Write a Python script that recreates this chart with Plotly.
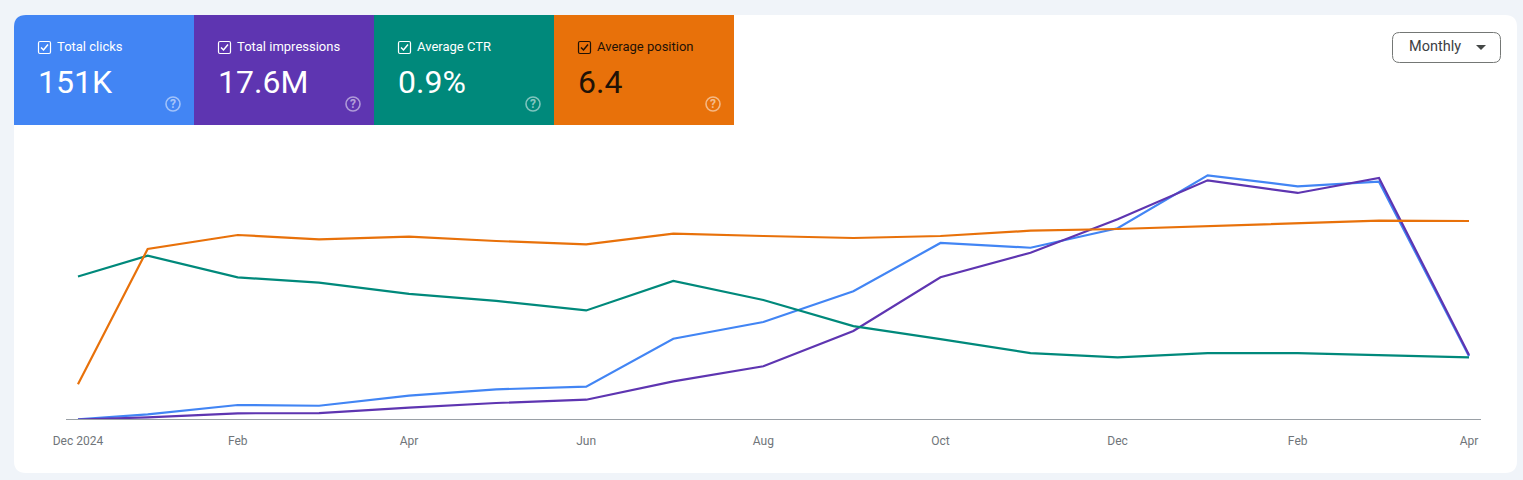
import plotly.graph_objects as go

W, H = 1523, 480

# data
dates = ['2024-12-08', '2025-01-01', '2025-02-01', '2025-03-01', '2025-04-01', '2025-05-01',
         '2025-06-01', '2025-07-01', '2025-08-01', '2025-09-01', '2025-10-01', '2025-11-01',
         '2025-12-01', '2026-01-01', '2026-02-01', '2026-03-01', '2026-04-01']
clicks = [60, 490, 1290, 1230, 2095, 2645, 2870, 7010, 8450, 11095, 15260, 14850,
          16525, 21095, 20145, 20540, 5490]
impressions = [5700, 31000, 77000, 80000, 141000, 195000, 233000, 444000, 617000, 1022000,
               1639000, 1921000, 2305000, 2752000, 2607000, 2779000, 746000]
ctr = [1.65, 1.89, 1.64, 1.58, 1.45, 1.37, 1.26, 1.60, 1.38, 1.08, 0.93, 0.77,
       0.72, 0.77, 0.77, 0.75, 0.72]
position = [10.93, 6.87, 6.45, 6.58, 6.50, 6.63, 6.73, 6.41, 6.48, 6.54, 6.48, 6.32,
            6.27, 6.18, 6.10, 6.02, 6.03]

tick_dates = ['2024-12-08', '2025-02-01', '2025-04-01', '2025-06-01', '2025-08-01',
              '2025-10-01', '2025-12-01', '2026-02-01', '2026-04-01']
tick_labels = ['Dec 2024', 'Feb', 'Apr', 'Jun', 'Aug', 'Oct', 'Dec', 'Feb', 'Apr']

card_labels = ['Total clicks', 'Total impressions', 'Average CTR', 'Average position']
card_values = ['151K', '17.6M', '0.9%', '6.4']
card_colors = ['#4285F4', '#5E35B1', '#00897B', '#E8710A']
card_text = ['#FFFFFF', '#FFFFFF', '#FFFFFF', '#1F1206']

FONT = 'Roboto'


def px(x):
    return x / W


def py(y):
    return 1 - y / H


def path(points, close=False):
    # points are pixel positions; a 4-tuple is a rounded corner (control x, control y, end)
    d = ''
    for i, p in enumerate(points):
        if len(p) == 4:
            d += f'Q{px(p[0])},{py(p[1])} {px(p[2])},{py(p[3])} '
        else:
            d += f"{'M' if i == 0 else 'L'}{px(p[0])},{py(p[1])} "
    return d + ('Z' if close else '')


def round_rect(x0, y0, x1, y1, tl=0, tr=0, br=0, bl=0):
    return path([(x0 + tl, y0), (x1 - tr, y0), (x1, y0, x1, y0 + tr), (x1, y1 - br),
                 (x1, y1, x1 - br, y1), (x0 + bl, y1), (x0, y1, x0, y1 - bl),
                 (x0, y0 + tl), (x0, y0, x0 + tl, y0)], close=True)


def shape(d, fill=None, line=None, width=0):
    return dict(type='path', path=d, xref='paper', yref='paper', layer='below',
                fillcolor=fill or 'rgba(0,0,0,0)', line=dict(color=line or 'rgba(0,0,0,0)', width=width))


def label(x, y, text, size, color, weight=400, anchor='left'):
    return dict(x=px(x), y=py(y), xref='paper', yref='paper', text=text, showarrow=False,
                xanchor=anchor, yanchor='middle', align=anchor,
                font=dict(family=FONT, size=size, color=color, weight=weight))


fig = go.Figure()
fig.add_trace(go.Scatter(x=dates, y=position, yaxis='y4', name='Average position', cliponaxis=False,
                         mode='lines', line=dict(color='#E8710A', width=2.2)))
fig.add_trace(go.Scatter(x=dates, y=ctr, yaxis='y3', name='Average CTR', cliponaxis=False,
                         mode='lines', line=dict(color='#00897B', width=2.2)))
fig.add_trace(go.Scatter(x=dates, y=impressions, yaxis='y2', name='Total impressions', cliponaxis=False,
                         mode='lines', line=dict(color='#5E35B1', width=2.2)))
fig.add_trace(go.Scatter(x=dates, y=clicks, yaxis='y', name='Total clicks', cliponaxis=False,
                         mode='lines', line=dict(color='#4285F4', width=2.2)))

# page panel
shapes = [shape(round_rect(14, 15, 1517, 473, 12, 12, 12, 12), fill='#FFFFFF')]
notes = []

# metric cards
for i, name in enumerate(card_labels):
    x0 = 14 + i * 180
    tl = 12 if i == 0 else 0
    shapes.append(shape(round_rect(x0, 15, x0 + 180, 125, tl=tl), fill=card_colors[i]))
    c = card_text[i]
    shapes.append(shape(round_rect(x0 + 24.5, 41.5, x0 + 36.5, 53.5, 1.5, 1.5, 1.5, 1.5), line=c, width=1.2))
    shapes.append(shape(path([(x0 + 27, 47.5), (x0 + 29.5, 50), (x0 + 34, 44.5)]), line=c, width=1.5))
    shapes.append(dict(type='circle', xref='paper', yref='paper', layer='below',
                       x0=px(x0 + 152), x1=px(x0 + 166), y0=py(97), y1=py(111),
                       line=dict(color='rgba(255,255,255,0.5)', width=1.6)))
    notes.append(label(x0 + 41, 46.5, name, 13, c))
    notes.append(label(x0 + 22, 82, card_values[i], 32, c))
    notes.append(label(x0 + 159, 104, '?', 12, 'rgba(255,255,255,0.55)', weight=700, anchor='center'))

# period dropdown
shapes.append(shape(round_rect(1392.5, 32.5, 1500.5, 62.5, 7, 7, 7, 7), fill='#FFFFFF', line='#747775', width=1))
shapes.append(shape(path([(1476, 45), (1486, 45), (1481, 50)], close=True), fill='#444746'))
notes.append(label(1407, 47, 'Monthly', 14.5, '#3C4043'))

fig.update_layout(
    template='none',
    width=W, height=H,
    margin=dict(l=0, r=0, t=0, b=0, pad=0),
    paper_bgcolor='#F0F4F9',
    plot_bgcolor='rgba(0,0,0,0)',
    showlegend=False,
    shapes=shapes,
    annotations=notes,
    xaxis=dict(type='date', domain=[px(66), px(1481)], automargin=False,
               range=['2024-12-03 21:00', '2026-04-05 03:00'],
               tickmode='array', tickvals=tick_dates, ticktext=tick_labels,
               ticks='outside', ticklen=11, tickcolor='rgba(0,0,0,0)',
               tickfont=dict(family=FONT, size=12, color='#70757A'),
               showgrid=False, zeroline=False, showline=True, linecolor='#9AA0A6', linewidth=1),
    # bottom of each range sits one pixel above zero so the axis line lands where the series start
    yaxis=dict(domain=[py(419), py(130)], range=[86, 25000], visible=False, showgrid=False, automargin=False),
    yaxis2=dict(overlaying='y', range=[11480, 3330000], visible=False, showgrid=False, automargin=False),
    yaxis3=dict(overlaying='y', range=[0.0115, 3.335], visible=False, showgrid=False, automargin=False),
    yaxis4=dict(overlaying='y', range=[11.97, 3.3], visible=False, showgrid=False, automargin=False),
)

fig.write_html('out.html', config=dict(displayModeBar=False),
               post_script="document.body.style.margin='0';document.body.style.overflow='hidden';")
